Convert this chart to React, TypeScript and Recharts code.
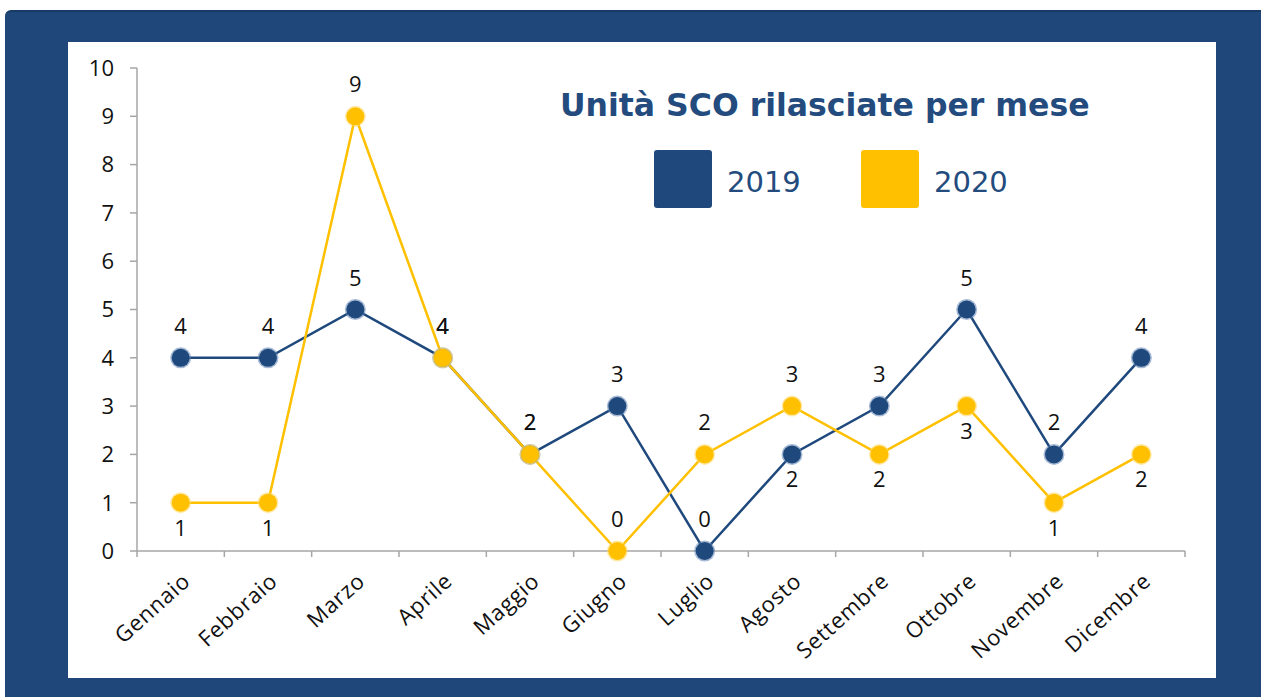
import { LineChart, Line, XAxis, YAxis, LabelList } from 'recharts'

const months = [
  'Gennaio', 'Febbraio', 'Marzo', 'Aprile', 'Maggio', 'Giugno',
  'Luglio', 'Agosto', 'Settembre', 'Ottobre', 'Novembre', 'Dicembre'
]
const units2019 = [4, 4, 5, 4, 2, 3, 0, 2, 3, 5, 2, 4]
const units2020 = [1, 1, 9, 4, 2, 0, 2, 3, 2, 3, 1, 2]
const yTicks = [0, 1, 2, 3, 4, 5, 6, 7, 8, 9, 10]

// which side each value label sits on
const side2019 = ['top', 'top', 'top', 'top', 'top', 'top', 'top', 'bottom', 'top', 'top', 'top', 'top']
const side2020 = ['bottom', 'bottom', 'top', 'top', 'top', 'top', 'top', 'top', 'bottom', 'bottom', 'bottom', 'bottom']

const BLUE = '#1f497d'
const GOLD = '#ffc000'
const FRAME = '#1f477a'
const AXIS = '#a6a6a6'
const FONT = '"Open Sans", "Liberation Sans", sans-serif'

const CHART_W = 1148
const CHART_H = 636
const MARGIN = { top: 26, right: 31, left: 0, bottom: 0 }
const Y_W = 69
const PLOT_W = CHART_W - MARGIN.right - Y_W
const BAND = PLOT_W / months.length

const data = months.map((m, i) => ({ month: m, y2019: units2019[i], y2020: units2020[i] }))

function XTick(props: any) {
  const { x, y, payload } = props
  const idx = payload?.index ?? props.index
  const half = BAND / 2
  return (
    <g>
      <line x1={x - half} x2={x - half} y1={y} y2={y + 6} stroke={AXIS} strokeWidth={1.5} />
      {idx === months.length - 1 && (
        <line x1={x + half} x2={x + half} y1={y} y2={y + 6} stroke={AXIS} strokeWidth={1.5} />
      )}
      <text
        transform={`translate(${x + 11},${y + 32}) rotate(-42)`}
        textAnchor="end"
        fontSize={22}
        letterSpacing={0.8}
        fontFamily={FONT}
        fill="#111"
      >
        {payload.value}
      </text>
    </g>
  )
}

function makeLabel(sides: string[]) {
  return (p: any) => {
    const { x, y, value, index } = p
    const below = sides[index] === 'bottom'
    return (
      <text
        x={x}
        y={below ? y + 33 : y - 24}
        textAnchor="middle"
        fontSize={22}
        fontFamily={FONT}
        fill="#111"
      >
        {value}
      </text>
    )
  }
}

function makeDot(fill: string, edge: string) {
  return (p: any) => {
    const { cx, cy, index } = p
    return (
      <g key={`d-${index}`}>
        <circle cx={cx} cy={cy} r={10.5} fill={edge} opacity={0.55} />
        <circle cx={cx} cy={cy} r={9} fill={fill} />
      </g>
    )
  }
}

export default function App() {
  return (
    <div style={{ position: 'absolute', left: 0, top: 0, width: 1261, height: 697, background: '#fff', overflow: 'hidden' }}>
      {/* dark blue frame */}
      <div style={{
        position: 'absolute', left: 5, top: 10, width: 1256, height: 687,
        background: FRAME, borderTopLeftRadius: 6, borderTop: '2px solid #183a66', boxSizing: 'border-box'
      }} />
      {/* white panel */}
      <div style={{ position: 'absolute', left: 68, top: 42, width: CHART_W, height: CHART_H, background: '#fff' }}>
        <LineChart width={CHART_W} height={CHART_H} data={data} margin={MARGIN}>
          <XAxis
            dataKey="month"
            height={127}
            padding={{ left: BAND / 2, right: BAND / 2 }}
            axisLine={{ stroke: AXIS, strokeWidth: 1.5 }}
            tickLine={false}
            tickSize={0}
            tickMargin={0}
            interval={0}
            tick={<XTick />}
          />
          <YAxis
            width={Y_W}
            domain={[0, 10]}
            ticks={yTicks}
            interval={0}
            axisLine={{ stroke: AXIS, strokeWidth: 1.5 }}
            tickLine={{ stroke: AXIS, strokeWidth: 1.5 }}
            tickSize={7}
            tickMargin={16}
            tick={{ fontSize: 22, fill: '#111', fontFamily: FONT }}
          />
          <Line
            dataKey="y2019"
            stroke={BLUE}
            strokeWidth={2.5}
            dot={makeDot(BLUE, '#5d82b3')}
            activeDot={false}
            isAnimationActive={false}
          >
            <LabelList dataKey="y2019" content={makeLabel(side2019)} />
          </Line>
          <Line
            dataKey="y2020"
            stroke={GOLD}
            strokeWidth={2.5}
            dot={makeDot(GOLD, '#ffd966')}
            activeDot={false}
            isAnimationActive={false}
          >
            <LabelList dataKey="y2020" content={makeLabel(side2020)} />
          </Line>
        </LineChart>

        {/* title and legend */}
        <div style={{
          position: 'absolute', left: 492, top: 43, fontFamily: '"DejaVu Sans", Verdana, sans-serif',
          fontWeight: 'bold', fontSize: 31.5, color: '#234b7e', whiteSpace: 'nowrap', lineHeight: '40px'
        }}>
          Unità SCO rilasciate per mese
        </div>
        {[
          { label: '2019', color: BLUE, left: 586 },
          { label: '2020', color: GOLD, left: 793 },
        ].map(item => (
          <div key={item.label} style={{ position: 'absolute', left: item.left, top: 108, display: 'flex', alignItems: 'center' }}>
            <div style={{ width: 58, height: 58, background: item.color, borderRadius: 3 }} />
            <span style={{
              marginLeft: 15, paddingTop: 6, fontFamily: '"DejaVu Sans", Verdana, sans-serif', fontSize: 29,
              color: '#234b7e', lineHeight: '40px'
            }}>{item.label}</span>
          </div>
        ))}
      </div>
    </div>
  )
}
